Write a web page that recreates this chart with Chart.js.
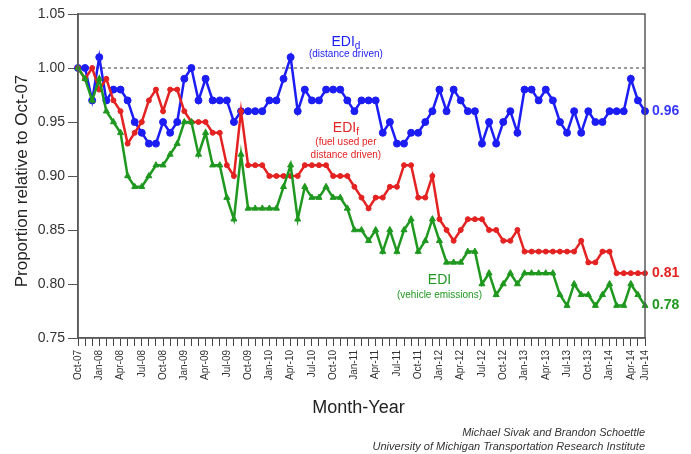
<!DOCTYPE html>
<html>
<head>
<meta charset="utf-8">
<script src="https://cdn.jsdelivr.net/npm/chart.js@4.4.1/dist/chart.umd.min.js"></script>
<style>
  body { margin: 0; background: #fff; }
  #chart { display: block; }
</style>
</head>
<body>
<canvas id="chart" width="691" height="454"></canvas>
<script>
const monthNames = ['Jan','Feb','Mar','Apr','May','Jun','Jul','Aug','Sep','Oct','Nov','Dec'];
// Oct-07 .. Jun-14, one point per month
const months = [];
for (let i = 0; i < 81; i++) {
  const m = (9 + i) % 12;
  const yr = 7 + Math.floor((9 + i) / 12);
  months.push(monthNames[m] + '-' + String(yr).padStart(2, '0'));
}

// EDI_d (distance driven)
const edid = [1.00,1.00,0.97,1.01,0.97,0.98,0.98,0.97,0.95,0.94,0.93,0.93,0.95,0.94,0.95,0.99,1.00,0.97,0.99,0.97,
              0.97,0.97,0.95,0.96,0.96,0.96,0.96,0.97,0.97,0.99,1.01,0.96,0.98,0.97,0.97,0.98,0.98,0.98,0.97,0.96,
              0.97,0.97,0.97,0.94,0.95,0.93,0.93,0.94,0.94,0.95,0.96,0.98,0.96,0.98,0.97,0.96,0.96,0.93,0.95,0.93,
              0.95,0.96,0.94,0.98,0.98,0.97,0.98,0.97,0.95,0.94,0.96,0.94,0.96,0.95,0.95,0.96,0.96,0.96,0.99,0.97,0.96];
// EDI_f (fuel used per distance driven)
const edif = [1.00,0.99,1.00,0.98,0.99,0.97,0.96,0.93,0.94,0.95,0.97,0.98,0.96,0.98,0.98,0.96,0.95,0.95,0.95,0.94,
              0.94,0.91,0.90,0.96,0.91,0.91,0.91,0.90,0.90,0.90,0.90,0.90,0.91,0.91,0.91,0.91,0.90,0.90,0.90,0.89,
              0.88,0.87,0.88,0.88,0.89,0.89,0.91,0.91,0.88,0.88,0.90,0.86,0.85,0.84,0.85,0.86,0.86,0.86,0.85,0.85,
              0.84,0.84,0.85,0.83,0.83,0.83,0.83,0.83,0.83,0.83,0.83,0.84,0.82,0.82,0.83,0.83,0.81,0.81,0.81,0.81,0.81];
// EDI (vehicle emissions)
const edi  = [1.00,0.99,0.97,0.99,0.96,0.95,0.94,0.90,0.89,0.89,0.90,0.91,0.91,0.92,0.93,0.95,0.95,0.92,0.94,0.91,
              0.91,0.88,0.86,0.92,0.87,0.87,0.87,0.87,0.87,0.89,0.91,0.86,0.89,0.88,0.88,0.89,0.88,0.88,0.87,0.85,
              0.85,0.84,0.85,0.83,0.85,0.83,0.85,0.86,0.83,0.84,0.86,0.84,0.82,0.82,0.82,0.83,0.83,0.80,0.81,0.79,
              0.80,0.81,0.80,0.81,0.81,0.81,0.81,0.81,0.79,0.78,0.80,0.79,0.79,0.78,0.79,0.80,0.78,0.78,0.80,0.79,0.78];

const BLUE = '#1c1cf5', RED = '#e42222', GREEN = '#1f981f';
const FONT = "'Liberation Sans', Arial, sans-serif";

const extras = {
  id: 'extras',
  beforeDatasetsDraw(chart) {
    const { ctx, chartArea: a, scales: { y } } = chart;
    const yy = y.getPixelForValue(1);
    ctx.save();
    ctx.strokeStyle = '#7a7a7a';
    ctx.lineWidth = 1.5;
    ctx.setLineDash([3, 3]);
    ctx.beginPath();
    ctx.moveTo(a.left, yy);
    ctx.lineTo(a.right, yy);
    ctx.stroke();
    ctx.restore();
  },
  afterDraw(chart) {
    const { ctx, chartArea: a, scales: { x, y } } = chart;
    ctx.save();
    // frame
    ctx.strokeStyle = '#5a5a5a';
    ctx.lineWidth = 1.5;
    ctx.strokeRect(a.left, a.top, a.right - a.left, a.bottom - a.top);

    // series notes
    const notes = [
      { color: BLUE, at: 37.8, sub: 'd', main: 1.024, lines: [['(distance driven)', 1.013]] },
      { color: RED, at: 37.8, sub: 'f', main: 0.944, lines: [['(fuel used per', 0.931], ['distance driven)', 0.919]] },
      { color: GREEN, at: 51.0, sub: '', main: 0.804, lines: [['(vehicle emissions)', 0.790]] }
    ];
    ctx.textBaseline = 'middle';
    notes.forEach(n => {
      const cx = x.getPixelForValue(n.at);
      ctx.fillStyle = n.color;
      ctx.font = '14px ' + FONT;
      const w1 = ctx.measureText('EDI').width;
      ctx.font = '10px ' + FONT;
      const w2 = n.sub ? ctx.measureText(n.sub).width : 0;
      const left = cx - (w1 + w2) / 2;
      const my = y.getPixelForValue(n.main);
      ctx.textAlign = 'left';
      ctx.font = '14px ' + FONT;
      ctx.fillText('EDI', left, my);
      if (n.sub) {
        ctx.font = '10px ' + FONT;
        ctx.fillText(n.sub, left + w1, my + 4);
      }
      ctx.textAlign = 'center';
      ctx.font = '10px ' + FONT;
      n.lines.forEach(([t, v]) => ctx.fillText(t, cx, y.getPixelForValue(v)));
    });

    // end values
    ctx.textAlign = 'left';
    ctx.font = 'bold 14px ' + FONT;
    [[edid, '#3a3aff'], [edif, RED], [edi, GREEN]].forEach(([arr, c]) => {
      const last = arr.length - 1;
      ctx.fillStyle = c;
      ctx.fillText(arr[last].toFixed(2), x.getPixelForValue(last) + 7, y.getPixelForValue(arr[last]));
    });

    // axis titles
    ctx.fillStyle = '#222';
    ctx.font = '17px ' + FONT;
    ctx.textAlign = 'center';
    ctx.save();
    ctx.translate(22, (a.top + a.bottom) / 2 + 5);
    ctx.rotate(-Math.PI / 2);
    ctx.fillText('Proportion relative to Oct-07', 0, 0);
    ctx.restore();
    ctx.font = '18px ' + FONT;
    ctx.fillText('Month-Year', (a.left + a.right) / 2 - 3, 408);

    // credit
    ctx.textAlign = 'right';
    ctx.fillStyle = '#333';
    ctx.font = 'italic 11px ' + FONT;
    ctx.fillText('Michael Sivak and Brandon Schoettle', a.right, 433);
    ctx.fillText('University of Michigan Transportation Research Institute', a.right, 447);
    ctx.restore();
  }
};

function series(label, data, color, style, radius, order) {
  return {
    label: label,
    data: data,
    borderColor: color,
    backgroundColor: color,
    borderWidth: 2.5,
    pointStyle: style,
    pointRadius: radius,
    pointBorderWidth: 1,
    tension: 0,
    order: order
  };
}

new Chart(document.getElementById('chart'), {
  type: 'line',
  data: {
    labels: months,
    datasets: [
      series('EDId', edid, BLUE, 'circle', 3.5, 3),
      series('EDIf', edif, RED, 'circle', 2.5, 2),
      series('EDI', edi, GREEN, 'triangle', 3.5, 1)
    ]
  },
  options: {
    responsive: false,
    animation: false,
    layout: { padding: { top: 14, right: 46, left: 0, bottom: 0 } },
    plugins: { legend: { display: false }, tooltip: { enabled: false } },
    scales: {
      x: {
        offset: false,
        afterFit: s => { s.height = 116; },
        grid: { drawOnChartArea: false, tickLength: 8, color: '#444', tickWidth: 1 },
        border: { color: '#5a5a5a', width: 1.5 },
        ticks: {
          autoSkip: false,
          minRotation: 90,
          maxRotation: 90,
          padding: 4,
          color: '#333',
          font: { family: FONT, size: 10 },
          callback: (v, i) => (i % 3 === 0 || i === months.length - 1) ? months[i] : ''
        }
      },
      y: {
        min: 0.75,
        max: 1.05,
        afterFit: s => { s.width = 78; },
        grid: { drawOnChartArea: false, tickLength: 10, color: '#555' },
        border: { color: '#5a5a5a', width: 1.5 },
        ticks: {
          stepSize: 0.05,
          padding: 3,
          color: '#333',
          font: { family: FONT, size: 14 },
          callback: v => v.toFixed(2)
        }
      }
    }
  },
  plugins: [extras]
});
</script>
</body>
</html>
